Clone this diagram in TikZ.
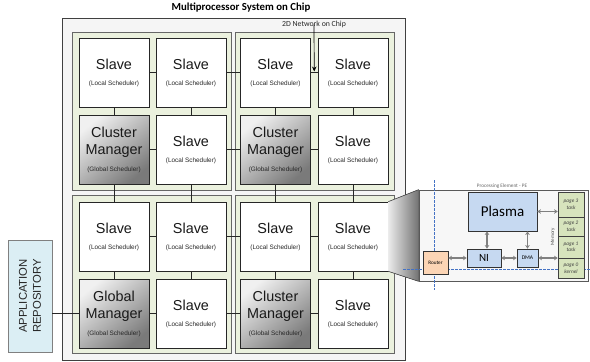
\documentclass[tikz,border=0pt]{standalone}
\usepackage{fontspec}
\setmainfont{Liberation Sans}
\newfontfamily\calibri{Carlito}
\usetikzlibrary{arrows.meta,calc}

\definecolor{clusterfill}{HTML}{EBF1DE}
\definecolor{repofill}{HTML}{DBEEF4}
\definecolor{plasmafill}{HTML}{C6D9F1}
\definecolor{routerfill}{HTML}{FCD5B5}
\definecolor{memfill}{HTML}{D7E4BD}
\definecolor{netblue}{HTML}{4472C4}

\tikzset{
  outerbox/.style={draw=black!75, fill=black!4, line width=0.8pt, inner sep=0,
    minimum width=343pt, minimum height=342pt},
  clusterbox/.style={draw=black!60, fill=clusterfill, line width=0.7pt, inner sep=0,
    minimum width=159pt, minimum height=158pt},
  slavebox/.style={draw=black!85, fill=white, line width=0.7pt, inner sep=0,
    minimum width=70pt, minimum height=69pt},
  mgrbox/.style={slavebox, top color=black!6, bottom color=black!52, shading angle=40},
  bigtxt/.style={inner sep=0, text=black!90, font=\fontsize{14.4}{16}\selectfont},
  smalltxt/.style={inner sep=0, text=black!85, font=\fontsize{6.4}{8}\selectfont},
  link/.style={draw=black!85, line width=0.6pt},
  repobox/.style={draw=black!50, fill=repofill, line width=0.7pt, inner sep=0,
    minimum width=44pt, minimum height=112pt},
  pebox/.style={draw=black!65, fill=black!3, line width=0.7pt, inner sep=0,
    minimum width=169pt, minimum height=91pt},
  unitbox/.style={draw=black!80, fill=plasmafill, line width=0.7pt, inner sep=0},
  pagebox/.style={draw=black!75, fill=memfill, line width=0.6pt, inner sep=0,
    minimum width=26pt, align=center,
    font=\calibri\itshape\fontsize{5.3}{6.6}\selectfont, text=black!75},
  pearrow/.style={{Stealth[length=3.6pt,width=4.6pt]}-{Stealth[length=3.6pt,width=4.6pt]},
    draw=black!50, line width=1.4pt},
  netline/.style={draw=netblue, line width=0.6pt, dash pattern=on 3pt off 1pt},
}

% a slave tile: box plus its two text lines
\newcommand\slavenode[3]{%
  \node[slavebox] (#1) at (#2,#3) {};
  \node[bigtxt] at ($(#1.center)+(0,-8)$) {Slave};
  \node[smalltxt] at ($(#1.center)+(0,11)$) {(Local Scheduler)};
}
% a manager tile: shaded box, two-word title and scheduler note
\newcommand\mgrnode[4]{%
  \node[mgrbox] (#1) at (#2,#3) {};
  \node[bigtxt] at ($(#1.center)+(0,-17.5)$) {#4};
  \node[bigtxt] at ($(#1.center)+(0,1.5)$) {Manager};
  \node[smalltxt] at ($(#1.center)+(0,20.5)$) {(Global Scheduler)};
}

\begin{document}
\begin{tikzpicture}[x=1pt,y=-1pt]
\useasboundingbox (0,0) rectangle (590,362);

% chip outline and the four clusters
\node[outerbox] (soc) at (233.5,189) {};
\node[inner sep=0, font=\calibri\bfseries\fontsize{10.8}{12}\selectfont] (soctitle) at (241,8) {Multiprocessor System on Chip};
\node[clusterbox] (c1) at (151.5,111) {};
\node[clusterbox] (c2) at (314.5,111) {};
\node[clusterbox] (c3) at (151.5,274) {};
\node[clusterbox] (c4) at (314.5,274) {};

% tiles
\slavenode{n11}{114}{72.5}
\slavenode{n12}{191}{72.5}
\slavenode{n13}{275.5}{72.5}
\slavenode{n14}{353}{72.5}
\mgrnode{n21}{114}{149.5}{Cluster}
\slavenode{n22}{191}{149.5}
\mgrnode{n23}{275.5}{149.5}{Cluster}
\slavenode{n24}{353}{149.5}
\slavenode{n31}{114}{236.5}
\slavenode{n32}{191}{236.5}
\slavenode{n33}{275.5}{236.5}
\slavenode{n34}{353}{236.5}
\mgrnode{n41}{114}{313.5}{Global}
\slavenode{n42}{191}{313.5}
\mgrnode{n43}{275.5}{313.5}{Cluster}
\slavenode{n44}{353}{313.5}

% mesh links
\foreach \r in {1,2,3,4}{
  \draw[link] (n\r1.east) -- (n\r2.west);
  \draw[link] (n\r2.east) -- (n\r3.west);
  \draw[link] (n\r3.east) -- (n\r4.west);
}
\foreach \c in {1,2,3,4}{
  \draw[link] (n1\c.south) -- (n2\c.north);
  \draw[link] (n2\c.south) -- (n3\c.north);
  \draw[link] (n3\c.south) -- (n4\c.north);
}

% network label
\node[inner sep=0, font=\calibri\fontsize{7.8}{9}\selectfont, text=black!85] (noclbl) at (314,24.5) {2D Network on Chip};
\coordinate (nocpt) at ($(n13.east)!0.5!(n14.west)+(0,-1)$);
\draw[-{Stealth[length=5pt,width=4.5pt]}, line width=0.7pt] (noclbl.center) -- (nocpt);

% application repository
\node[repobox] (repo) at (30,296) {};
\node[rotate=90, align=center, inner sep=0, text=black!85,
  font=\fontsize{11.3}{14}\selectfont] at (repo.center) {APPLICATION\\REPOSITORY};
\draw[link] (repo.east |- n41.west) -- (n41.west);

% callout from a tile to the processing element
\node[pebox] (pe) at (503.5,235.5) {};
\fill[left color=black!8, right color=black!55] (n34.north east) -- (pe.north west) -- (pe.south west) -- (n34.south east) -- cycle;
\draw[black!70, line width=0.6pt] (n34.north east) -- (pe.north west);
\draw[black!70, line width=0.6pt] (n34.south east) -- (pe.south west);
\node[pebox] at (pe.center) {};
\node[inner sep=0, font=\calibri\fontsize{5.2}{6}\selectfont, text=black!60] at (502,186) {Processing Element - PE};

% router network lines
\coordinate (netN) at (434,180);
\coordinate (netS) at (434,290);
\coordinate (netW) at (403,269);
\coordinate (netE) at (590,269);
\draw[netline] (netN) -- (netS);
\draw[netline] (netW) -- (netE);

% processing element internals
\node[unitbox, minimum width=69pt, minimum height=39pt, font=\calibri\fontsize{15}{16}\selectfont] (plasma) at (502.5,211.5) {Plasma};
\node[unitbox, minimum width=34pt, minimum height=18pt, font=\calibri\fontsize{11}{12}\selectfont] (ni) at (484,258) {NI};
\node[unitbox, minimum width=21pt, minimum height=18pt, font=\calibri\fontsize{5.6}{6}\selectfont] (dma) at (527.5,258) {DMA};
\node[draw=black!80, fill=routerfill, line width=0.7pt, inner sep=0,
  minimum width=25pt, minimum height=23pt, font=\calibri\fontsize{5.2}{6}\selectfont] (router) at (435.5,262.5) {Router};

\node[pagebox, minimum height=25pt] (pg3) at (571,204.5) {page 3\\task};
\node[pagebox, minimum height=19pt] (pg2) at (571,226.5) {page 2\\task};
\node[pagebox, minimum height=22pt] (pg1) at (571,247) {page 1\\task};
\node[pagebox, minimum height=20pt] (pg0) at (571,268) {page 0\\kernel};
\node[rotate=90, inner sep=0, font=\calibri\fontsize{5}{6}\selectfont, text=black!70] at (553,237) {Memory};

\draw[pearrow] (plasma.east) -- (plasma.east -| pg3.west);
\draw[pearrow] ([xshift=3pt]ni.north) -- ([xshift=3pt]ni.north |- plasma.south);
\draw[pearrow] (dma.north) -- (dma.north |- plasma.south);
\draw[pearrow] (router.east |- ni.west) -- (ni.west);
\draw[pearrow] (ni.east) -- (dma.west);
\draw[pearrow] (dma.east) -- (dma.east -| pg1.west);
\end{tikzpicture}
\end{document}
